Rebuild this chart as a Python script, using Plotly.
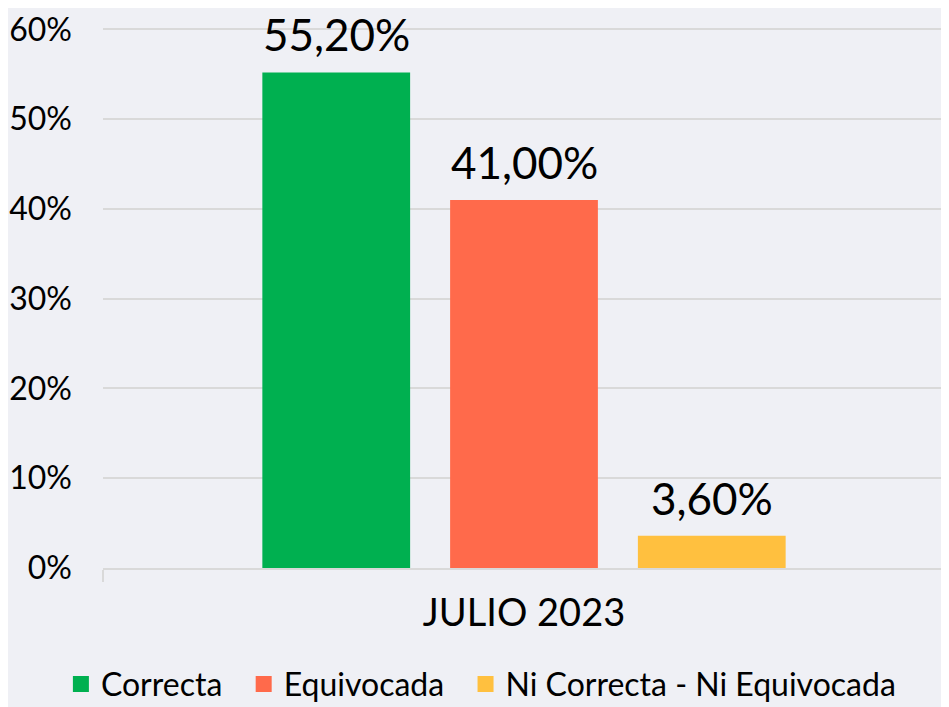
import plotly.graph_objects as go

categories = ["JULIO 2023"]
series_names = ["Correcta", "Equivocada", "Ni Correcta - Ni Equivocada"]
series_values = [[55.20], [41.00], [3.60]]
series_colors = ["#00b050", "#ff6a4b", "#ffc03f"]
y_ticks = [0, 10, 20, 30, 40, 50, 60]
y_tick_labels = [f"{v}%" for v in y_ticks]

FONT = "Lato"
PLOT_W = 941 - 95 - 4
BARGAP = 0.331
SLOT = PLOT_W * (1 - BARGAP) / len(series_names)

fig = go.Figure()
for i, (name, vals, col) in enumerate(zip(series_names, series_values, series_colors)):
    fig.add_trace(go.Bar(
        x=categories, y=vals, name=name, showlegend=False,
        marker=dict(color=col, line=dict(width=0)),
    ))
    for c, v in zip(categories, vals):
        fig.add_annotation(
            x=c, y=v, xref="x", yref="y", text=f"{v:.2f}%".replace(".", ","),
            showarrow=False, yanchor="bottom", xanchor="center",
            xshift=(i - 1) * SLOT, yshift=10,
            font=dict(size=44, color="#000000", family=FONT),
        )
# legend entries with larger square symbols
pad = "\u00a0\u00a0"
for i, (name, col) in enumerate(zip(series_names, series_colors)):
    fig.add_trace(go.Scatter(
        x=[None], y=[None], mode="markers",
        name=name + (pad if i < len(series_names) - 1 else ""),
        marker=dict(symbol="square", size=21, color=col),
    ))

fig.update_layout(
    width=941, height=699,
    margin=dict(l=95, r=4, t=20, b=139, autoexpand=False),
    paper_bgcolor="#eff0f5", plot_bgcolor="#eff0f5",
    barmode="group", bargap=BARGAP, bargroupgap=0.213,
    font=dict(family=FONT, color="#000000"),
    legend=dict(orientation="h", x=-0.05, xanchor="left", y=-0.215, yanchor="middle",
                font=dict(size=32, family=FONT), itemwidth=30, tracegroupgap=0,
                bgcolor="rgba(0,0,0,0)"),
)
fig.update_yaxes(range=[0, 60.15], tickvals=y_ticks, ticktext=y_tick_labels,
                 showgrid=True, gridcolor="#d9d9d9", gridwidth=2,
                 zeroline=False, showline=False, automargin=False,
                 tickfont=dict(size=32, family=FONT, color="#000000"),
                 ticklabelstandoff=30)
fig.update_xaxes(showline=True, linecolor="#d9d9d9", linewidth=2, automargin=False,
                 ticks="outside", tickson="boundaries", ticklen=12, tickcolor="#d9d9d9", tickwidth=2,
                 tickfont=dict(size=38, family=FONT, color="#000000"),
                 ticklabelstandoff=10)

fig.write_html("out.html")
